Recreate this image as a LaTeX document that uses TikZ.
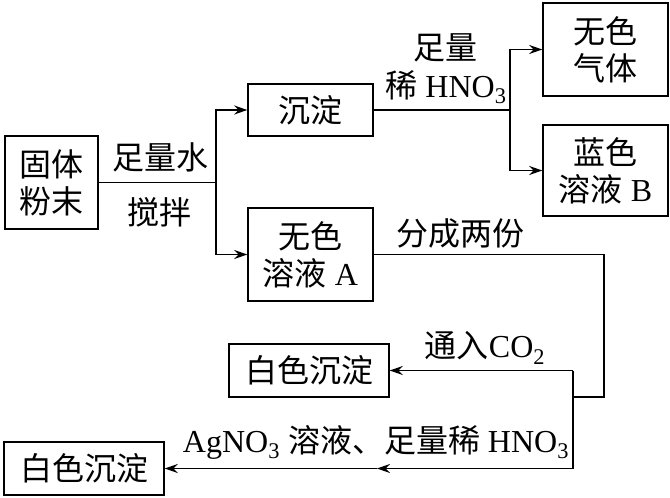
\documentclass[tikz,border=0pt]{standalone}
\usepackage{fontspec}
\setmainfont{Liberation Serif}
\newfontfamily\zhfont{Noto Sans CJK SC}
\usepackage{tikz}
\usetikzlibrary{arrows.meta}
\tikzstyle{arrow} = [line width=1.5pt,-{Stealth[length=13pt,width=9pt]}]
\tikzstyle{line} = [line width=1.5pt]
\tikzstyle{box} = [draw, line width=1.5pt, align=center, inner sep=0pt]
\tikzstyle{lbl} = [align=center, inner sep=0pt]

\begin{document}
\begin{tikzpicture}[x=1pt, y=-1pt, font=\fontsize{32}{37}\selectfont]
    \useasboundingbox (0,0) rectangle (670,498);

    % Boxes
    \node (powder) [box, minimum width=93pt, minimum height=93pt] at (51.5,182.5) {\zhfont 固体\\\zhfont 粉末};
    \node (precip) [box, minimum width=125pt, minimum height=52pt] at (310.5,110) {\zhfont 沉淀};
    \node (solA) [box, minimum width=125pt, minimum height=93pt] at (310.5,254.5) {\zhfont 无色\\{\zhfont 溶液} A};
    \node (gas) [box, minimum width=125pt, minimum height=93pt] at (605.5,49.5) {\zhfont 无色\\\zhfont 气体};
    \node (solB) [box, minimum width=125pt, minimum height=91pt] at (605.5,170.5) {\zhfont 蓝色\\{\zhfont 溶液} B};
    \node (white1) [box, minimum width=160pt, minimum height=53pt] at (309,370.5) {\zhfont 白色沉淀};
    \node (white2) [box, minimum width=160pt, minimum height=53pt] at (84,468.5) {\zhfont 白色沉淀};

    % Labels
    \node (water) [lbl] at (160,157) {\zhfont 足量水};
    \node (stir) [lbl] at (159,212) {\zhfont 搅拌};
    \node (acid1) [lbl] at (445,48) {\zhfont 足量};
    \node (acid2) [lbl] at (446,87) {{\zhfont 稀} HNO\textsubscript{3}};
    \node (divide) [lbl] at (460,233) {\zhfont 分成两份};
    \node (co2) [lbl] at (485,348) {{\zhfont 通入}CO\textsubscript{2}};
    \node (agno3) [lbl] at (376,442) {AgNO\textsubscript{3} {\zhfont 溶液、足量稀} HNO\textsubscript{3}};

    % Turning points
    \coordinate (fork1) at (216,182.5);
    \coordinate (fork2) at (510,110);
    \coordinate (turn1) at (604,254.5);
    \coordinate (turn2) at (604,397);
    \coordinate (split) at (573,397);
    \coordinate (upper) at (573,370.5);
    \coordinate (lower) at (573,468.5);
    \coordinate (mid) at (377,468.5);

    % Edges
    \draw[line] (powder.east) -- (fork1);
    \draw[arrow] (fork1) |- (precip.west);
    \draw[arrow] (fork1) |- (solA.west);
    \draw[line] (precip.east) -- (fork2);
    \draw[arrow] (fork2) |- (gas.west);
    \draw[arrow] (fork2) |- (solB.west);
    \draw[line] (solA.east) -- (turn1) -- (turn2) -- (split);
    \draw[line] (upper) -- (lower);
    \draw[arrow] (upper) -- (white1.east);
    \draw[arrow] (lower) -- (mid);
    \draw[arrow] (mid) -- (white2.east);
\end{tikzpicture}
\end{document}
